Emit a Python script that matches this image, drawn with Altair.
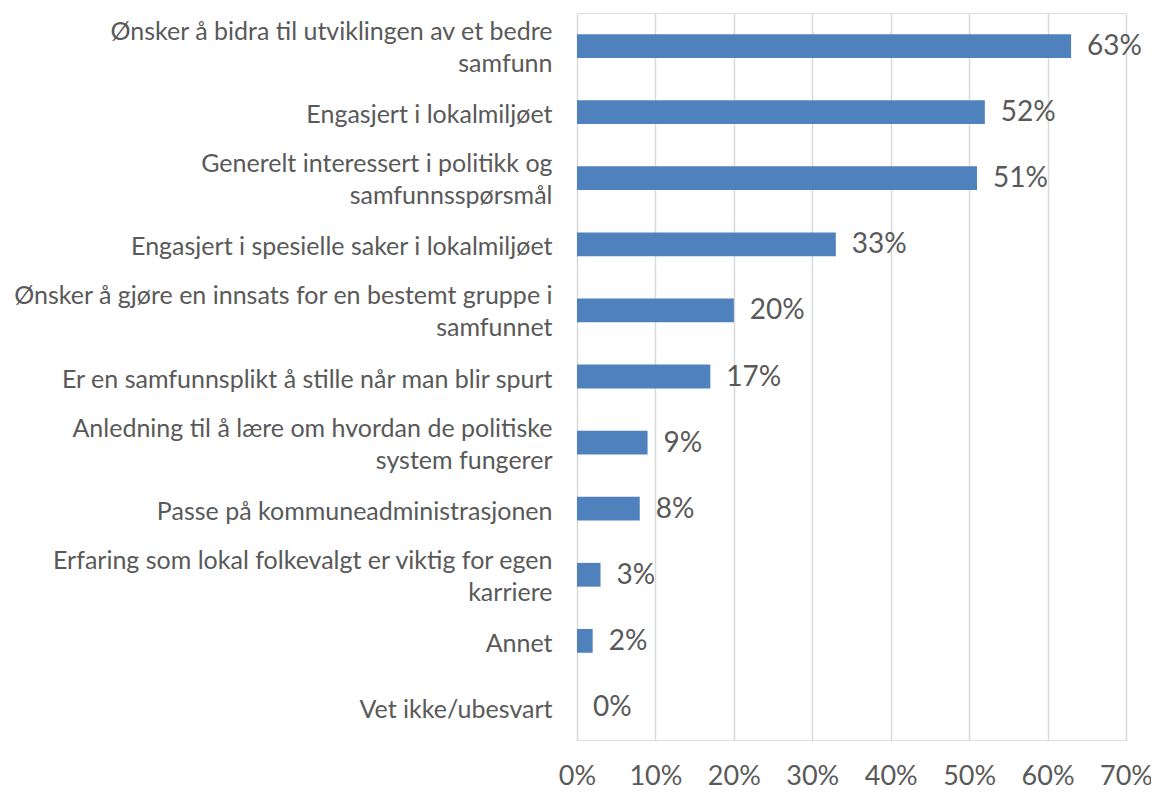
import altair as alt
import pandas as pd

categories = [
    "Ønsker å bidra til utviklingen av et bedre|samfunn",
    "Engasjert i lokalmiljøet",
    "Generelt interessert i politikk og|samfunnsspørsmål",
    "Engasjert i spesielle saker i lokalmiljøet",
    "Ønsker å gjøre en innsats for en bestemt gruppe i|samfunnet",
    "Er en samfunnsplikt å stille når man blir spurt",
    "Anledning til å lære om hvordan de politiske|system fungerer",
    "Passe på kommuneadministrasjonen",
    "Erfaring som lokal folkevalgt er viktig for egen|karriere",
    "Annet",
    "Vet ikke/ubesvart",
]
values = [0.63, 0.52, 0.51, 0.33, 0.20, 0.17, 0.09, 0.08, 0.03, 0.02, 0.0]
value_labels = ["63%", "52%", "51%", "33%", "20%", "17%", "9%", "8%", "3%", "2%", "0%"]
x_ticks = [0, 0.1, 0.2, 0.3, 0.4, 0.5, 0.6, 0.7]

df = pd.DataFrame({"cat": categories, "val": values, "lbl": value_labels})

FONT = "Lato"
TEXT = "#595959"

y = alt.Y(
    "cat:N",
    sort=None,
    title=None,
    scale=alt.Scale(paddingInner=0.64, paddingOuter=0.32),
    axis=alt.Axis(
        labelExpr="split(datum.label, '|')",
        labelFont=FONT,
        labelFontSize=25,
        labelColor=TEXT,
        labelLimit=600,
        labelPadding=25,
        labelLineHeight=32,
        labelOffset={"condition": {"test": "indexof(datum.value, '|') >= 0", "value": -14}, "value": 3},
        ticks=False,
        tickSize=0,
        domain=False,
        grid=False,
    ),
)

x = alt.X(
    "val:Q",
    title=None,
    scale=alt.Scale(domain=[0, 0.7], nice=False),
    axis=alt.Axis(
        format=".0%",
        values=x_ticks,
        labelFont=FONT,
        labelFontSize=27,
        labelColor=TEXT,
        labelPadding=23,
        labelFlush=False,
        ticks=False,
        tickSize=0,
        domain=False,
        grid=True,
        gridColor="#d9d9d9",
        gridWidth=1.5,
    ),
)

bars = alt.Chart(df).mark_bar(color="#4f81bd").encode(x=x, y=y)
labels = alt.Chart(df).mark_text(
    align="left", baseline="middle", dx=16, dy=1, font=FONT, fontSize=28, color=TEXT
).encode(x="val:Q", y=alt.Y("cat:N", sort=None), text="lbl:N")

chart = (
    alt.layer(bars, labels)
    .properties(
        width=549,
        height=727,
        autosize=alt.AutoSizeParams(type="none"),
        padding={"left": 569, "top": 5, "right": 25, "bottom": 46},
    )
    .configure_view(stroke=None)
    .configure(background="white")
)

chart.save("out.html", embed_options={"renderer": "svg", "actions": False})
